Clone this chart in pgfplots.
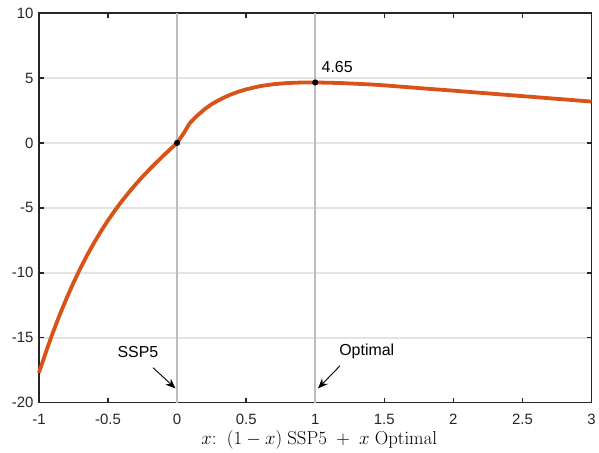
\documentclass[border=0pt]{standalone}
\usepackage[no-math]{fontspec}
\setmainfont{Liberation Sans}
\usepackage{graphicx}
\usepackage{pgfplots}
\pgfplotsset{compat=1.18}
\usetikzlibrary{arrows.meta}
\definecolor{curve}{rgb}{0.85,0.325,0.098}
\definecolor{axc}{rgb}{0.15,0.15,0.15}
\definecolor{vline}{rgb}{0.74,0.74,0.74}
\definecolor{gridc}{rgb}{0.89,0.89,0.89}
\begin{document}
\begin{tikzpicture}
\begin{axis}[
  name=ax,
  scale only axis,
  width=553bp, height=390bp,
  xmin=-1, xmax=3, ymin=-20, ymax=10,
  xtick={-1,-0.5,...,3},
  ytick={-20,-15,...,10},
  xticklabels={-1,-0.5,0,0.5,1,1.5,2,2.5,3},
  yticklabels={-20,-15,-10,-5,0,5,10},
  tick align=inside,
  major tick length=5bp,
  axis line style={axc, line width=1.5bp},
  tick style={axc, line width=1.5bp},
  ticklabel style={font=\fontsize{15}{18}\selectfont, text=axc},
  xticklabel style={yshift=-8bp},
  yticklabel style={xshift=-2bp},
  ymajorgrids,
  grid style={gridc, line width=1.6bp},
  xlabel={\scalebox{1.09}{$x{:}\;\;(1-x)\;\mathrm{SSP5}\;+\;x\;\mathrm{Optimal}$}},
  xlabel style={at={(axis description cs:0.5,0)}, anchor=base, yshift=-42bp, xshift=4bp, font=\fontsize{17.28}{20}\selectfont},
  clip=false,
]
\addplot[vline, line width=1.6bp] coordinates {(0,-20) (0,10)};
\addplot[vline, line width=1.6bp] coordinates {(1,-20) (1,10)};
\addplot[curve, line width=3.8bp, line join=round] coordinates {
(-1,-17.70) (-0.95,-16.11) (-0.9,-14.62) (-0.85,-13.24) (-0.8,-11.96) (-0.75,-10.76)
(-0.7,-9.65) (-0.65,-8.62) (-0.6,-7.67) (-0.55,-6.78) (-0.5,-5.96) (-0.45,-5.20)
(-0.4,-4.48) (-0.35,-3.82) (-0.3,-3.19) (-0.25,-2.60) (-0.2,-2.04) (-0.15,-1.51)
(-0.1,-0.99) (-0.05,-0.49) (0,0) (0.05,0.78) (0.09,1.5) (0.14,2.05) (0.2,2.6)
(0.25,2.98) (0.3,3.28) (0.35,3.55) (0.4,3.77) (0.45,3.96) (0.5,4.12) (0.6,4.37)
(0.7,4.52) (0.8,4.61) (0.9,4.645) (1.0,4.65) (1.1,4.63) (1.2,4.6) (1.3,4.55)
(1.4,4.5) (1.5,4.43) (1.75,4.22) (2,4.02) (2.25,3.81) (2.5,3.6) (2.75,3.39) (3,3.18)
};
\addplot[only marks, mark=*, mark size=2.8bp, black] coordinates {(0,0) (1,4.65)};
\node[anchor=west, font=\fontsize{16}{18}\selectfont, inner sep=0pt] at (axis cs:1.045,5.85) {4.65};
\node[font=\fontsize{16}{18}\selectfont, inner sep=0pt] at (axis cs:-0.284,-16.08) {SSP5};
\node[font=\fontsize{16}{18}\selectfont, inner sep=0pt] at (axis cs:1.373,-16.08) {Optimal};
\draw[-{Stealth[length=10bp,width=8bp]}, line width=0.9bp] (axis cs:-0.175,-17.3) -- (axis cs:-0.012,-18.9);
\draw[-{Stealth[length=10bp,width=8bp]}, line width=0.9bp] (axis cs:1.18,-17.15) -- (axis cs:1.02,-18.9);
\end{axis}
\path ([shift={(-39bp,-50bp)}]ax.south west) rectangle ([shift={(7bp,13bp)}]ax.north east);
\end{tikzpicture}
\end{document}
